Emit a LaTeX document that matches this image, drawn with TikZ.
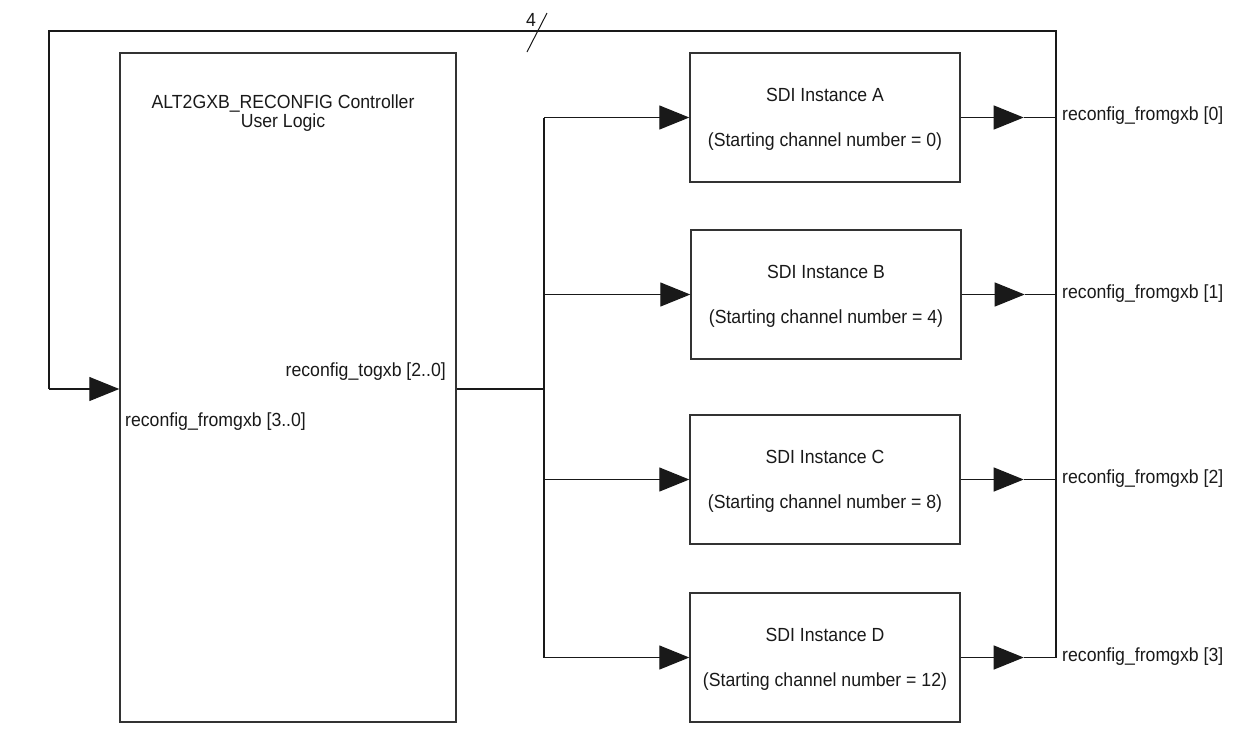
\documentclass[tikz,border=0pt]{standalone}
\usepackage{fontspec}
\setmainfont[FakeStretch=0.93]{Liberation Sans}
\usetikzlibrary{arrows.meta}
\begin{document}
\begin{tikzpicture}[x=1pt,y=-1pt,
  wire/.style={line width=1.2pt, draw=black!90},
  feed/.style={wire, -{Triangle[length=30pt,width=24pt]}},
  blockbox/.style={draw=black!80, line width=1.4pt, inner sep=0pt,
                   minimum width=270pt, minimum height=129pt},
  lbl/.style={font=\fontsize{19}{19}\selectfont, text=black!90, inner sep=0pt},
]
\useasboundingbox (0,0) rectangle (1257,740);

% controller block
\node[draw=black!80, line width=1.4pt, inner sep=0pt,
      minimum width=336pt, minimum height=669pt] (ctl) at (288,387.5) {};
\node[lbl, align=center] (ctltitle) at (283,113) {ALT2GXB\_RECONFIG Controller\\User Logic};
\node[lbl, anchor=east] (togxb) at (446,372) {reconfig\_togxb [2..0]};
\node[lbl, anchor=west] (fromgxb) at (125,422) {reconfig\_fromgxb [3..0]};

% SDI instances
\node[blockbox] (A) at (825,117.5) {};
\node[blockbox] (B) at (826,294.5) {};
\node[blockbox] (C) at (825,479.5) {};
\node[blockbox] (D) at (825,657.5) {};
\node[lbl] (At) at (825,95)  {SDI Instance A};
\node[lbl] (As) at (825,142) {(Starting channel number = 0)};
\node[lbl] (Bt) at (826,272) {SDI Instance B};
\node[lbl] (Bs) at (826,319) {(Starting channel number = 4)};
\node[lbl] (Ct) at (825,457) {SDI Instance C};
\node[lbl] (Cs) at (825,504) {(Starting channel number = 8)};
\node[lbl] (Dt) at (825,635) {SDI Instance D};
\node[lbl] (Ds) at (825,682) {(Starting channel number = 12)};

% bus corners
\coordinate (tl) at (49,31);
\coordinate (tr) at (1056,31);
\coordinate (rb) at (1056,657.5);
\coordinate (fb) at (49,389);
\coordinate (sx) at (544,389);

% feedback bus from the instances back to the controller
\draw[wire] (rb) -- (tr) -- (tl) -- (fb);
\draw[feed] (fb) -- (fb -| ctl.west);

% bus width mark
\coordinate (s1) at (527,52);
\coordinate (s2) at (547,13);
\draw[line width=1pt, black!90] (s1) -- (s2);
\node[lbl] (bw) at (531,20) {4};

% control fan-out
\draw[wire] (ctl.east |- sx) -- (sx);
\draw[wire] (A.west -| sx) -- (D.west -| sx);
\foreach \n in {A,B,C,D}{
  \draw[feed] (\n.west -| sx) -- (\n.west);
  \draw[feed] (\n.east) -- ++(63,0) coordinate (tip\n);
  \draw[wire] (tip\n) -- (\n.east -| tr);
}

% status outputs
\node[lbl, anchor=west] (oA) at (1062,116) {reconfig\_fromgxb [0]};
\node[lbl, anchor=west] (oB) at (1062,294) {reconfig\_fromgxb [1]};
\node[lbl, anchor=west] (oC) at (1062,479) {reconfig\_fromgxb [2]};
\node[lbl, anchor=west] (oD) at (1062,657) {reconfig\_fromgxb [3]};
\end{tikzpicture}
\end{document}
